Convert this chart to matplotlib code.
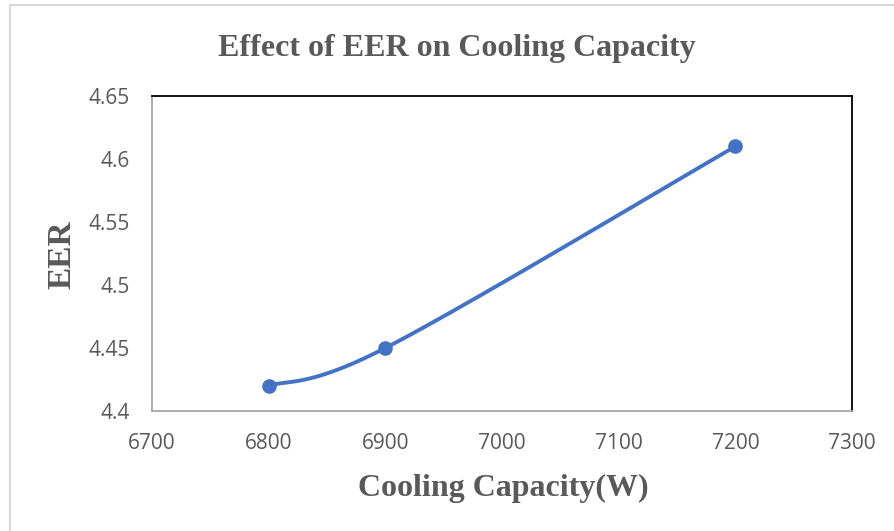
import matplotlib
matplotlib.use("Agg")
import matplotlib.pyplot as plt
from matplotlib.patches import Rectangle
import numpy as np

capacity = [6800, 6900, 7200]
eer = [4.42, 4.45, 4.61]
x_ticks = [6700, 6800, 6900, 7000, 7100, 7200, 7300]
y_ticks = [4.4, 4.45, 4.5, 4.55, 4.6, 4.65]
y_tick_labels = ["4.4", "4.45", "4.5", "4.55", "4.6", "4.65"]

blue = "#4472C4"
grey = "#595959"


def smooth_excel(ax, xs, ys, n=60):
    # catmull-rom style bezier, done in pixel space like Excel
    pts = ax.transData.transform(np.column_stack([xs, ys]))
    P = np.vstack([pts[0], pts, pts[-1]])
    out = []
    for i in range(1, len(P) - 2):
        p0, p1, p2, p3 = P[i - 1], P[i], P[i + 1], P[i + 2]
        c1 = p1 + (p2 - p0) / 6
        c2 = p2 - (p3 - p1) / 6
        t = np.linspace(0, 1, n)[:, None]
        seg = (1 - t) ** 3 * p1 + 3 * (1 - t) ** 2 * t * c1 + 3 * (1 - t) * t ** 2 * c2 + t ** 3 * p2
        out.append(seg)
    out = np.vstack(out)
    return ax.transData.inverted().transform(out)


fig = plt.figure(figsize=(8.94, 5.31), dpi=100)
fig.patches.append(Rectangle((10 / 894, -0.1), 2, 1.09, transform=fig.transFigure,
                             facecolor="none", edgecolor="#d9d9d9", lw=1.5))
ax = fig.add_axes([152 / 894, 1 - 411 / 531, 700 / 894, 315 / 531])
ax.set_xlim(6700, 7300)
ax.set_ylim(4.4, 4.65)

curve = smooth_excel(ax, capacity, eer)
ax.plot(curve[:, 0], curve[:, 1], color=blue, lw=2.8, solid_capstyle="round", zorder=2)
ax.plot(capacity, eer, "o", color=blue, ms=9.5, zorder=3)

ax.set_xticks(x_ticks)
ax.set_yticks(y_ticks)
ax.set_yticklabels(y_tick_labels)
ax.tick_params(length=0, colors=grey, labelsize=15)
ax.tick_params(axis="y", pad=16)
ax.tick_params(axis="x", pad=16)
for lab in ax.get_xticklabels() + ax.get_yticklabels():
    lab.set_family("Open Sans")

ax.spines["top"].set_color("black")
ax.spines["right"].set_color("black")
ax.spines["left"].set_color("#a6a6a6")
ax.spines["bottom"].set_color("#a6a6a6")
for s in ax.spines.values():
    s.set_linewidth(1.3)

fig.text(457 / 894, 1 - 48 / 531, "Effect of EER on Cooling Capacity", ha="center", va="center",
         family="Liberation Serif", fontweight="bold", fontsize=23, color=grey)
fig.text(503 / 894, 1 - 488 / 531, "Cooling Capacity(W)", ha="center", va="center",
         family="Liberation Serif", fontweight="bold", fontsize=23, color=grey)
fig.text(62 / 894, 1 - 255 / 531, "EER", ha="center", va="center", rotation=90,
         family="Liberation Serif", fontweight="bold", fontsize=24, color=grey)

fig.savefig("out.png", dpi=100)
